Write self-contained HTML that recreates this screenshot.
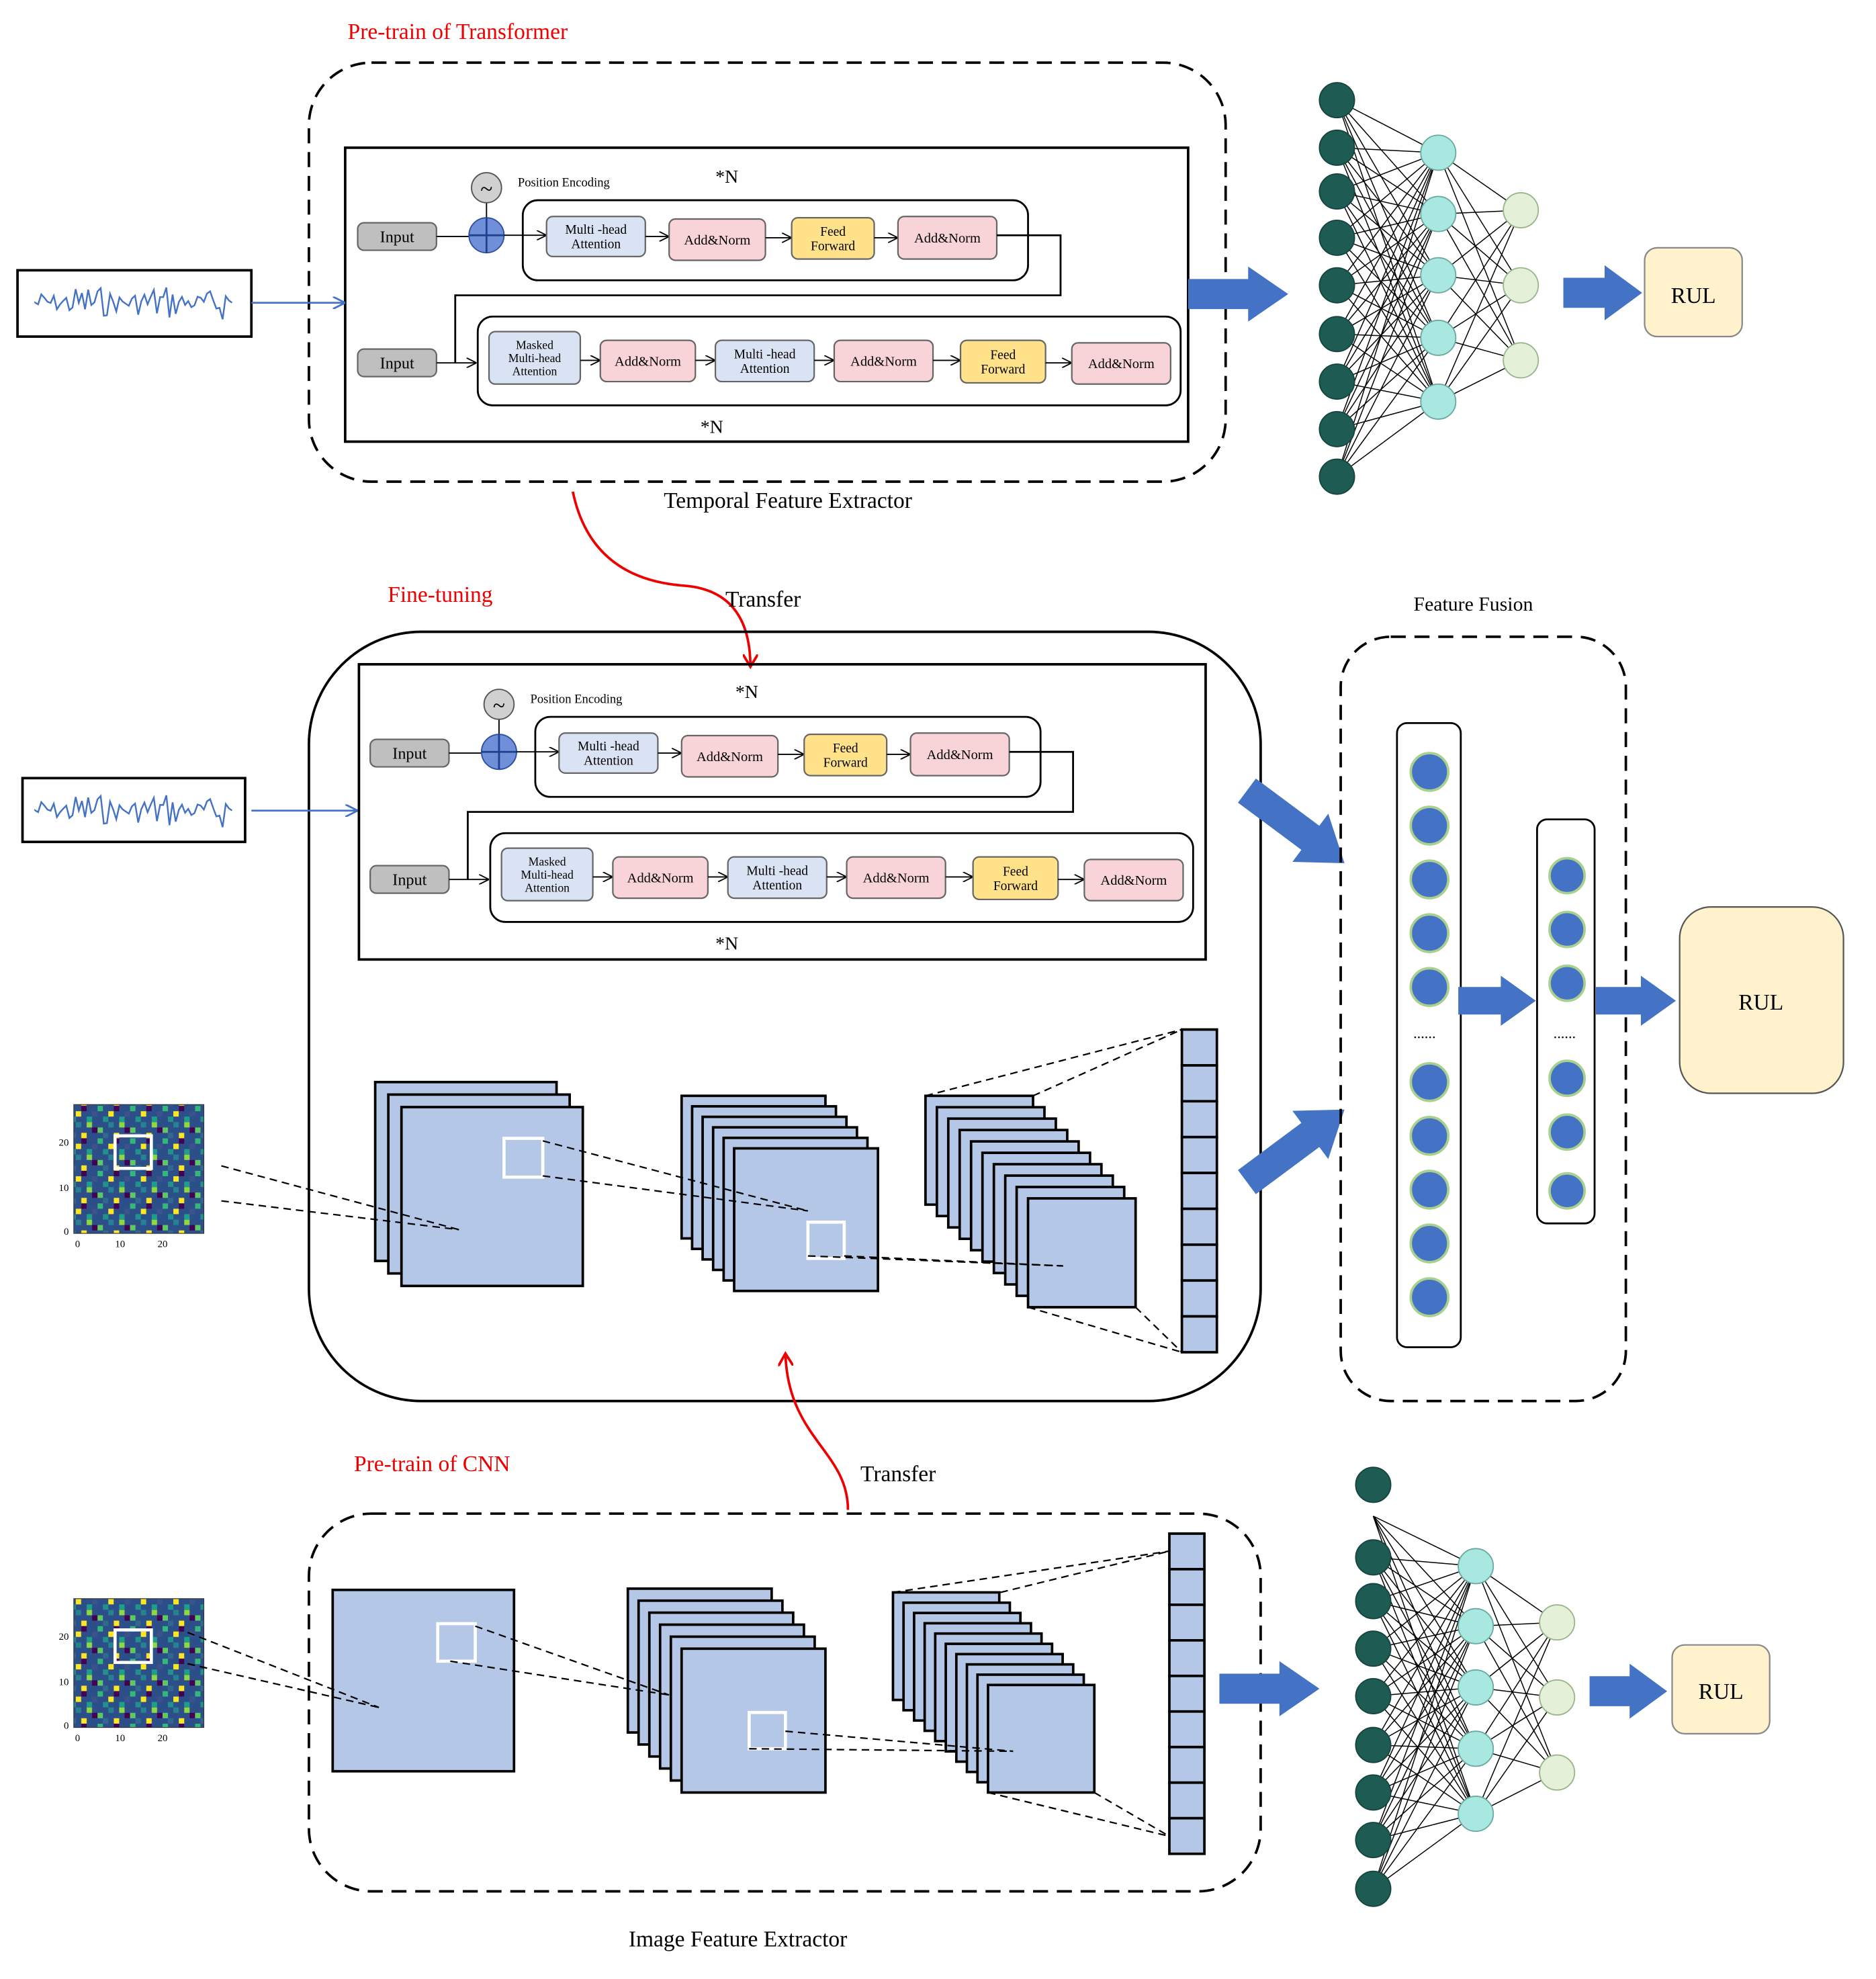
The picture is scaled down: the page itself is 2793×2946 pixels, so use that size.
<!DOCTYPE html>
<html><head><meta charset="utf-8"><style>
html,body{margin:0;padding:0;background:#fff}
svg{display:block}
text{font-family:"Liberation Serif",serif}
</style></head><body>
<svg id="s" width="2793" height="2946" viewBox="0 0 1500 1582" xmlns="http://www.w3.org/2000/svg">
<defs>
<marker id="ah" markerWidth="8" markerHeight="8" refX="7" refY="4" orient="auto" markerUnits="userSpaceOnUse"><path d="M0,0 L8,4 L0,8" fill="none" stroke="#000" stroke-width="1"/></marker>
<marker id="ab" markerWidth="10" markerHeight="10" refX="9" refY="5" orient="auto" markerUnits="userSpaceOnUse"><path d="M0,0 L10,5 L0,10" fill="none" stroke="#4472c4" stroke-width="1.5"/></marker>
<marker id="ar" markerWidth="12" markerHeight="12" refX="10" refY="6" orient="auto" markerUnits="userSpaceOnUse"><path d="M0,0 L10,6 L0,12" fill="none" stroke="#e00" stroke-width="2"/></marker>
<pattern id="hm" width="26" height="26" patternUnits="userSpaceOnUse">
<rect width="26" height="26" fill="#2c4f8a"/>
<rect x="0" y="0" width="4.3" height="4.3" fill="#35b779"/><rect x="8.6" y="4.3" width="4.3" height="4.3" fill="#fde725"/>
<rect x="4.3" y="8.6" width="4.3" height="4.3" fill="#21918c"/><rect x="13" y="0" width="4.3" height="4.3" fill="#440154"/>
<rect x="17.3" y="13" width="4.3" height="4.3" fill="#90d743"/><rect x="21.6" y="4.3" width="4.3" height="4.3" fill="#3b528b"/>
<rect x="0" y="17.3" width="4.3" height="4.3" fill="#5ec962"/><rect x="13" y="21.6" width="4.3" height="4.3" fill="#fde725"/>
<rect x="4.3" y="21.6" width="4.3" height="4.3" fill="#31688e"/><rect x="21.6" y="17.3" width="4.3" height="4.3" fill="#440154"/>
<rect x="8.6" y="13" width="4.3" height="4.3" fill="#26828e"/><rect x="17.3" y="8.6" width="4.3" height="4.3" fill="#1f9e89"/>
</pattern>
</defs>

<!-- ===== TOP ===== -->
<text x="278" y="31" font-size="18" fill="#e00">Pre-train of Transformer</text>
<rect x="247" y="50" width="733" height="335" rx="50" fill="none" stroke="#000" stroke-width="2" stroke-dasharray="12,7"/>
<rect x="276" y="118" width="674" height="235" fill="none" stroke="#000" stroke-width="2"/>
<text x="572" y="146" font-size="15">*N</text>
<text x="560" y="346" font-size="15">*N</text>
<text x="630" y="406" font-size="18" text-anchor="middle">Temporal Feature Extractor</text>
<g id="tr1"></g>
<rect x="14" y="216" width="187" height="53" fill="#fff" stroke="#000" stroke-width="2"/>
<path id="sig1" fill="none" stroke="#4472c4" stroke-width="1.3"/>
<line x1="201" y1="242" x2="275" y2="242" stroke="#4472c4" stroke-width="1.5" marker-end="url(#ab)"/>
<g id="nn1"></g>
<rect x="1315" y="198" width="78" height="71" rx="10" fill="#fff2cc" stroke="#888" stroke-width="1.2"/>
<text x="1354" y="242" font-size="18" text-anchor="middle">RUL</text>

<!-- ===== MIDDLE ===== -->
<path d="M458,393 C470,450 510,465 545,468 C580,470 600,490 600,533" fill="none" stroke="#e00" stroke-width="2" marker-end="url(#ar)"/>
<text x="580" y="485" font-size="18">Transfer</text>
<text x="310" y="481" font-size="18" fill="#e00">Fine-tuning</text>
<rect x="247" y="505" width="761" height="615" rx="90" fill="none" stroke="#000" stroke-width="2"/>
<rect x="287" y="531" width="677" height="236" fill="none" stroke="#000" stroke-width="2"/>
<text x="588" y="558" font-size="15">*N</text>
<text x="572" y="759" font-size="15">*N</text>
<g id="tr2"></g>
<rect x="18" y="622" width="178" height="51" fill="#fff" stroke="#000" stroke-width="2"/>
<path id="sig2" fill="none" stroke="#4472c4" stroke-width="1.3"/>
<line x1="201" y1="648" x2="285" y2="648" stroke="#4472c4" stroke-width="1.5" marker-end="url(#ab)"/>
<g id="cnn1"></g>
<text x="1178" y="488" font-size="16" text-anchor="middle">Feature Fusion</text>
<rect x="1072" y="509" width="228" height="611" rx="40" fill="none" stroke="#000" stroke-width="2" stroke-dasharray="12,7"/>
<rect x="1117" y="578" width="51" height="499" rx="8" fill="#fff" stroke="#000" stroke-width="1.5"/>
<rect x="1229" y="655" width="46" height="323" rx="8" fill="#fff" stroke="#000" stroke-width="1.5"/>
<text x="1139" y="830" font-size="12" text-anchor="middle">......</text>
<text x="1251" y="830" font-size="12" text-anchor="middle">......</text>
<g id="ff"></g>
<rect x="1343" y="725" width="131" height="149" rx="25" fill="#fff2cc" stroke="#555" stroke-width="1.2"/>
<text x="1408" y="807" font-size="18" text-anchor="middle">RUL</text>

<!-- ===== BOTTOM ===== -->
<path d="M678,1207 C678,1160 630,1150 628,1082" fill="none" stroke="#e00" stroke-width="2" marker-end="url(#ar)"/>
<text x="688" y="1184" font-size="18">Transfer</text>
<text x="283" y="1176" font-size="18" fill="#e00">Pre-train of CNN</text>
<rect x="247" y="1210" width="761" height="302" rx="50" fill="none" stroke="#000" stroke-width="2" stroke-dasharray="12,7"/>
<g id="cnn2"></g>
<g id="nn2"></g>
<rect x="1337" y="1315" width="78" height="71" rx="10" fill="#fff2cc" stroke="#888" stroke-width="1.2"/>
<text x="1376" y="1358" font-size="18" text-anchor="middle">RUL</text>
<text x="590" y="1556" font-size="18" text-anchor="middle">Image Feature Extractor</text>
</svg>
<script>
var NS="http://www.w3.org/2000/svg";
function el(p,t,a,txt){var e=document.createElementNS(NS,t);for(var k in a)e.setAttribute(k,a[k]);if(txt!=null)e.textContent=txt;p.appendChild(e);return e;}
function g(id){return document.getElementById(id);}
// block arrow
function barrow(p,x1,y1,x2,y2,sw,hw,hl){var dx=x2-x1,dy=y2-y1,L=Math.hypot(dx,dy),ux=dx/L,uy=dy/L,nx=-uy,ny=ux;
var bx=x2-ux*hl,by=y2-uy*hl;var pts=[[x1+nx*sw,y1+ny*sw],[bx+nx*sw,by+ny*sw],[bx+nx*hw,by+ny*hw],[x2,y2],[bx-nx*hw,by-ny*hw],[bx-nx*sw,by-ny*sw],[x1-nx*sw,y1-ny*sw]];
el(p,"polygon",{points:pts.map(function(q){return q.join(",")}).join(" "),fill:"#4472c4"});}
var S=g("s");
// signals
function sig(id,x0,x1,yc){var d="M"+x0+","+yc;var seed=7;for(var x=x0;x<=x1;x+=2.5){seed=(seed*9301+49297)%233280;var r=seed/233280-0.5;d+=" L"+x.toFixed(1)+","+(yc+r*22*(1+0.4*Math.sin(x/9))).toFixed(1);}g(id).setAttribute("d",d);}
sig("sig1",28,187,242);sig("sig2",28,186,648);
// transformer
var C={b:"#dae3f3",p:"#f8d3d8",y:"#ffe28a",g:"#bfbfbf"};
function blk(p,x,y,w,h,fill,lines,fs){el(p,"rect",{x:x,y:y,width:w,height:h,rx:5,fill:fill,stroke:"#666","stroke-width":1.2});
var n=lines.length;for(var i=0;i<n;i++)el(p,"text",{x:x+w/2,y:y+h/2+(i-(n-1)/2)*(fs+1)+fs*0.35,"font-size":fs,"text-anchor":"middle"},lines[i]);}
function arr(p,x1,y1,x2,y2){el(p,"line",{x1:x1,y1:y1,x2:x2,y2:y2,stroke:"#000","stroke-width":1,"marker-end":"url(#ah)"});}
function trans(id,o){var p=g(id);var dx=o.dx,dy=o.dy;
el(p,"rect",{x:418+dx,y:160+dy,width:404,height:64,rx:12,fill:"none",stroke:"#000","stroke-width":1.5});
el(p,"rect",{x:382+dx,y:253+dy,width:562,height:71,rx:12,fill:"none",stroke:"#000","stroke-width":1.5});
el(p,"text",{x:414+dx,y:149+dy,"font-size":10},"Position Encoding");
el(p,"line",{x1:389+dx,y1:162+dy,x2:389+dx,y2:175+dy,stroke:"#000"});
el(p,"circle",{cx:389+dx,cy:150+dy,r:12,fill:"#d0d0d0",stroke:"#555"});
el(p,"text",{x:389+dx,y:157+dy,"font-size":18,"text-anchor":"middle"},"~");
blk(p,286+dx,178+dy,63,22,C.g,["Input"],13);
blk(p,286+dx,279+dy,63,22,C.g,["Input"],13);
el(p,"line",{x1:349+dx,y1:189+dy,x2:375+dx,y2:189+dy,stroke:"#000"});
el(p,"circle",{cx:389+dx,cy:188+dy,r:14,fill:"#6f8fd8",stroke:"#2f4f9f"});
el(p,"path",{d:"M"+(375+dx)+","+(188+dy)+" h28 M"+(389+dx)+","+(174+dy)+" v28",stroke:"#1f3f8f","stroke-width":1.5});
arr(p,403+dx,188+dy,436+dx,188+dy);
blk(p,437+dx,173+dy,79,32,C.b,["Multi -head","Attention"],10.5);arr(p,516+dx,189+dy,534+dx,189+dy);
blk(p,535+dx,175+dy,77,33,C.p,["Add&Norm"],11);arr(p,612+dx,190+dy,632+dx,190+dy);
blk(p,633+dx,174+dy,66,33,C.y,["Feed","Forward"],10.5);arr(p,699+dx,190+dy,717+dx,190+dy);
blk(p,718+dx,173+dy,79,34,C.p,["Add&Norm"],11);
el(p,"polyline",{points:[797+dx,188+dy,848+dx,188+dy,848+dx,236+dy,364+dx,236+dy,364+dx,290+dy].join(","),fill:"none",stroke:"#000","stroke-width":1.5});
arr(p,349+dx,290+dy,380+dx,290+dy);
blk(p,391+dx,265+dy,73,42,C.b,["Masked","Multi-head","Attention"],9.5);arr(p,464+dx,288+dy,479+dx,288+dy);
blk(p,480+dx,272+dy,76,33,C.p,["Add&Norm"],11);arr(p,556+dx,288+dy,571+dx,288+dy);
blk(p,572+dx,272+dy,79,33,C.b,["Multi -head","Attention"],10.5);arr(p,651+dx,288+dy,666+dx,288+dy);
blk(p,667+dx,272+dy,79,33,C.p,["Add&Norm"],11);arr(p,746+dx,288+dy,767+dx,288+dy);
blk(p,768+dx,272+dy,68,34,C.y,["Feed","Forward"],10.5);arr(p,836+dx,290+dy,856+dx,290+dy);
blk(p,857+dx,274+dy,79,33,C.p,["Add&Norm"],11);}
trans("tr1",{dx:0,dy:0});trans("tr2",{dx:10,dy:413});
// heatmap
function heat(p,x,y){el(p,"rect",{x:x,y:y,width:104,height:103,fill:"url(#hm)"});
el(p,"rect",{x:x,y:y,width:104,height:103,fill:"none",stroke:"#333","stroke-width":0.6});
[["20",30],["10",66],["0",101]].forEach(function(t){el(p,"text",{x:x-4,y:y+t[1]+3,"font-size":8,"text-anchor":"end","font-family":"Liberation Sans"},t[0]);});
[["0",3],["10",37],["20",71]].forEach(function(t){el(p,"text",{x:x+t[1],y:y+114,"font-size":8,"text-anchor":"middle","font-family":"Liberation Sans"},t[0]);});
el(p,"rect",{x:x+33,y:y+25,width:29,height:26,fill:"none",stroke:"#fff","stroke-width":2.5});}
function stack(p,bx,by,fx,fy,w,h,n){for(var i=0;i<n;i++){var t=n==1?0:i/(n-1);el(p,"rect",{x:bx+(fx-bx)*t,y:by+(fy-by)*t,width:w,height:h,fill:"#b4c7e7",stroke:"#000","stroke-width":2});}}
function dl(p,a){el(p,"line",{x1:a[0],y1:a[1],x2:a[2],y2:a[3],stroke:"#000","stroke-width":1.2,"stroke-dasharray":"6,4"});}
function wsq(p,x,y,s){el(p,"rect",{x:x,y:y,width:s,height:s,fill:"none",stroke:"#fff","stroke-width":2.5});}
function bar(p,x,y,w,h,n){for(var i=0;i<n;i++)el(p,"rect",{x:x,y:y+i*h/n,width:w,height:h/n,fill:"#b4c7e7",stroke:"#000","stroke-width":2});}
// cnn1
(function(){var p=g("cnn1");heat(p,59,883);
stack(p,300,865,321,885,145,143,3);
stack(p,545,876,587,918,115,114,6);
stack(p,740,876,822,958,86,87,10);
bar(p,945,823,28,258,9);
wsq(p,403,910,31);wsq(p,646,977,29);
dl(p,[177,932,367,983]);dl(p,[177,960,367,983]);
dl(p,[434,912,646,968]);dl(p,[434,940,646,968]);
dl(p,[675,1004,850,1012]);dl(p,[646,1004,850,1012]);
dl(p,[740,876,945,823]);dl(p,[826,876,945,823]);dl(p,[908,1045,945,1081]);dl(p,[822,1045,945,1081]);
barrow(p,997,632,1075,690,12,24,34);barrow(p,997,945,1075,887,12,24,34);})();
// cnn2
(function(){var p=g("cnn2");heat(p,59,1278);
stack(p,266,1271,266,1271,145,145,1);
stack(p,502,1270,545,1318,115,115,6);
stack(p,714,1273,790,1347,85,86,10);
bar(p,935,1226,28,256,9);
wsq(p,350,1298,30);wsq(p,599,1369,29);
dl(p,[150,1305,303,1365]);dl(p,[150,1330,303,1365]);
dl(p,[380,1300,535,1355]);dl(p,[360,1328,535,1355]);
dl(p,[628,1384,810,1400]);dl(p,[599,1398,810,1400]);
dl(p,[714,1273,935,1240]);dl(p,[800,1273,935,1240]);dl(p,[875,1433,935,1468]);dl(p,[790,1433,935,1468]);
barrow(p,975,1350,1055,1350,12,22,32);})();
// NN
function nn(id,L,M,R,lx,mx,rx){var p=g(id);
L.ys.forEach(function(a){M.forEach(function(b){el(p,"line",{x1:lx,y1:a,x2:mx,y2:b,stroke:"#000","stroke-width":0.8});});});
M.forEach(function(a){R.forEach(function(b){el(p,"line",{x1:mx,y1:a,x2:rx,y2:b,stroke:"#000","stroke-width":0.8});});});
L.all.forEach(function(y){el(p,"circle",{cx:lx,cy:y,r:14,fill:"#1e5b52",stroke:"#164540"});});
M.forEach(function(y){el(p,"circle",{cx:mx,cy:y,r:14,fill:"#a8e8e0",stroke:"#6aaaa0"});});
R.forEach(function(y){el(p,"circle",{cx:rx,cy:y,r:14,fill:"#e4f1d8",stroke:"#9ab58a"});});}
var l1=[80,118,153,190,228,267,305,343,381];
nn("nn1",{ys:l1,all:l1},[122,171,220,270,321],[168,228,288],1069,1150,1216);
barrow(g("nn1"),950,235,1030,235,12,22,32);barrow(g("nn1"),1250,234,1313,234,12,22,30);
var l2=[1245,1280,1318,1356,1395,1433,1471,1510];
nn("nn2",{ys:l2.concat([1212]),all:[1187].concat(l2)},[1252,1300,1349,1398,1450],[1297,1357,1417],1098,1180,1245);
barrow(g("nn2"),1271,1352,1333,1352,12,22,30);
// feature fusion
(function(){var p=g("ff");[617,660,703,746,789,865,908,951,994,1037].forEach(function(y){el(p,"circle",{cx:1143,cy:y,r:15,fill:"#4472c4",stroke:"#a9d18e","stroke-width":2});});
[700,743,786,862,905,952].forEach(function(y){el(p,"circle",{cx:1253,cy:y,r:14,fill:"#4472c4",stroke:"#a9d18e","stroke-width":2});});
barrow(p,1166,800,1228,800,11,20,28);barrow(p,1276,800,1340,800,11,20,28);})();
</script>
</body></html>
